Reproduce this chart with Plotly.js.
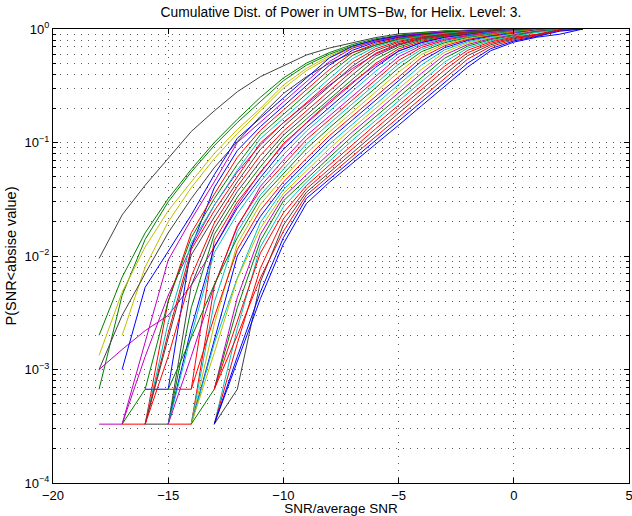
<!DOCTYPE html>
<html>
<head>
<meta charset="utf-8">
<script src="https://cdn.plot.ly/plotly-3.0.1.min.js"></script>
<style>html,body{margin:0;padding:0;background:#fff;}#chart{width:632px;height:516px;}</style>
</head>
<body>
<div id="chart"></div>
<script>
// SNR relative to average SNR (dB), sampling grid of every curve
const snrDb = [-18,-17,-16,-15,-14,-13,-12,-11,-10,-9,-8,-7,-6,-5,-4,-3,-2,-1,0,1,2,3];

// Cumulative probabilities (null = curve not started yet)
const pK1 = [0.0095,0.023,0.042,0.073,0.125,0.19,0.28,0.38,0.475,0.59,0.68,0.76,0.84,0.905,0.94,0.962,0.976,0.985,0.991,0.995,0.998,1];
const pG1 = [0.002,0.0065,0.016,0.032,0.058,0.1,0.16,0.25,0.37,0.5,0.62,0.73,0.82,0.88,0.93,0.96,0.975,0.985,0.992,0.996,0.998,1];
const pG2 = [0.00067,0.0045,0.014,0.03,0.055,0.094,0.15,0.23,0.35,0.48,0.6,0.71,0.8,0.87,0.92,0.955,0.972,0.984,0.991,0.995,0.998,1];
const pY1 = [0.00133,0.0048,0.012,0.025,0.045,0.08,0.13,0.2,0.32,0.45,0.58,0.7,0.79,0.86,0.91,0.95,0.97,0.983,0.99,0.995,0.998,1];
const pY2 = [null,0.002,0.008,0.02,0.04,0.072,0.12,0.19,0.3,0.43,0.56,0.68,0.78,0.85,0.9,0.94,0.965,0.98,0.99,0.995,0.998,1];
const pK2 = [0.001,0.003,0.007,0.016,0.032,0.06,0.102,0.17,0.27,0.38,0.5,0.62,0.72,0.81,0.87,0.92,0.955,0.975,0.987,0.994,0.997,1];
const pM1 = [0.001,0.0015,0.0022,0.003,0.0055,0.012,0.028,0.055,0.095,0.15,0.23,0.34,0.48,0.64,0.76,0.85,0.91,0.95,0.973,0.987,0.994,1];
const pM2 = [0.00033,0.00033,0.0013,0.0045,0.012,0.028,0.055,0.095,0.15,0.22,0.32,0.45,0.6,0.73,0.83,0.9,0.94,0.965,0.98,0.99,0.995,1];

const pB00 = [null,0.001,0.0053,0.011,0.023,0.052,0.109,0.164,0.248,0.374,0.557,0.704,0.802,0.868,0.912,0.944,0.964,0.977,0.985,0.99,0.994,1];
const pB01 = [null,0.00033,0.0017,0.0092,0.021,0.045,0.1,0.151,0.228,0.344,0.518,0.678,0.785,0.856,0.904,0.939,0.961,0.975,0.984,0.99,0.994,1];
const pB02 = [null,null,0.00067,0.00067,0.012,0.04,0.085,0.138,0.209,0.316,0.48,0.65,0.766,0.843,0.895,0.934,0.958,0.974,0.984,0.99,0.994,1];
const pB03 = [null,null,0.00033,0.004,0.016,0.035,0.074,0.128,0.193,0.291,0.44,0.618,0.745,0.829,0.886,0.928,0.956,0.973,0.983,0.99,0.994,1];
const pB04 = [null,0.00033,0.00067,0.004,0.0145,0.032,0.064,0.117,0.177,0.268,0.404,0.585,0.723,0.815,0.876,0.922,0.952,0.971,0.982,0.989,0.994,1];
const pB05 = [null,null,0.00033,0.0026,0.013,0.028,0.057,0.108,0.163,0.245,0.37,0.548,0.698,0.798,0.865,0.914,0.948,0.969,0.982,0.989,0.994,1];
const pB06 = [null,0.00033,0.00033,0.0021,0.0114,0.025,0.05,0.099,0.149,0.225,0.339,0.508,0.671,0.78,0.853,0.904,0.944,0.967,0.981,0.989,0.993,1];
const pB07 = [null,null,0.00033,0.0019,0.0102,0.022,0.045,0.087,0.138,0.207,0.313,0.471,0.644,0.763,0.842,0.895,0.939,0.965,0.98,0.989,0.993,1];
const pB08 = [null,null,0.00033,0.0013,0.0066,0.0195,0.041,0.077,0.126,0.19,0.285,0.43,0.612,0.742,0.828,0.886,0.932,0.962,0.979,0.988,0.993,1];
const pB09 = [null,null,0.00033,0.00033,0.0055,0.0174,0.037,0.068,0.116,0.175,0.263,0.395,0.577,0.72,0.814,0.876,0.925,0.959,0.977,0.988,0.993,1];
const pB10 = [null,null,null,0.00033,0.0035,0.0155,0.033,0.061,0.107,0.161,0.241,0.361,0.54,0.695,0.797,0.865,0.916,0.955,0.976,0.987,0.993,1];
const pB11 = [null,null,null,0.00067,0.00067,0.0137,0.03,0.054,0.098,0.148,0.221,0.332,0.498,0.667,0.779,0.853,0.904,0.95,0.974,0.987,0.993,1];
const pB12 = [null,null,null,0.00033,0.0023,0.012,0.0265,0.049,0.087,0.136,0.204,0.306,0.459,0.638,0.76,0.841,0.895,0.945,0.972,0.986,0.993,1];
const pB13 = [null,null,null,0.00033,0.002,0.0107,0.0236,0.045,0.078,0.126,0.188,0.282,0.424,0.605,0.738,0.827,0.885,0.938,0.97,0.985,0.993,1];
const pB14 = [null,null,null,0.00033,0.0013,0.0055,0.018,0.041,0.07,0.115,0.172,0.258,0.386,0.57,0.716,0.812,0.876,0.929,0.967,0.984,0.993,1];
const pB15 = [null,null,null,0.00033,0.00033,0.0054,0.0186,0.038,0.064,0.106,0.159,0.238,0.356,0.53,0.69,0.795,0.864,0.918,0.963,0.983,0.993,1];
const pB16 = [null,null,null,null,0.00033,0.0039,0.0164,0.0345,0.058,0.097,0.147,0.219,0.328,0.491,0.663,0.777,0.853,0.898,0.959,0.982,0.992,1];
const pB17 = [null,null,null,0.00067,0.0019,0.0056,0.0145,0.032,0.053,0.088,0.135,0.202,0.303,0.453,0.632,0.757,0.839,0.894,0.953,0.981,0.992,1];
const pB18 = [null,null,null,null,0.00033,0.0025,0.0128,0.0285,0.049,0.08,0.124,0.186,0.278,0.416,0.598,0.735,0.825,0.884,0.946,0.979,0.992,1];
const pB19 = [null,null,null,null,0.00067,0.0029,0.0114,0.0253,0.0448,0.0726,0.115,0.171,0.255,0.381,0.562,0.711,0.809,0.874,0.936,0.977,0.992,1];
const pB20 = [null,null,null,null,0.00033,0.0018,0.01,0.0223,0.0414,0.0665,0.106,0.158,0.235,0.352,0.522,0.685,0.792,0.862,0.923,0.974,0.991,1];
const pB21 = [null,null,null,null,0.00033,0.0017,0.0064,0.0198,0.0384,0.061,0.097,0.145,0.217,0.324,0.483,0.656,0.772,0.85,0.903,0.968,0.99,1];
const pB22 = [null,null,null,null,0.00033,0.0014,0.0063,0.0175,0.0356,0.056,0.0885,0.134,0.199,0.296,0.442,0.625,0.753,0.837,0.893,0.966,0.99,1];
const pB23 = [null,null,null,null,null,0.00067,0.0043,0.0155,0.0332,0.0519,0.081,0.124,0.184,0.274,0.408,0.591,0.73,0.822,0.883,0.959,0.99,1];
const pB24 = [null,null,null,null,0.00033,0.00067,0.0035,0.0136,0.0306,0.048,0.074,0.114,0.169,0.252,0.375,0.553,0.706,0.807,0.873,0.948,0.989,1];
const pB25 = [null,null,null,null,null,0.00033,0.0023,0.012,0.0271,0.0448,0.0687,0.105,0.156,0.232,0.344,0.512,0.679,0.789,0.861,0.932,0.988,1];
const pB26 = [null,null,null,null,null,0.00067,0.0027,0.0106,0.024,0.0417,0.0634,0.0964,0.144,0.213,0.317,0.471,0.65,0.77,0.849,0.9,0.986,1];
const pB27 = [null,null,null,null,null,0.00033,0.0017,0.0078,0.0212,0.039,0.0589,0.0888,0.132,0.197,0.292,0.435,0.618,0.749,0.835,0.891,0.984,1];
const pB28 = [null,null,null,null,null,0.00033,0.00067,0.0059,0.0187,0.0365,0.0547,0.0818,0.122,0.181,0.269,0.398,0.583,0.727,0.821,0.882,0.98,1];
const pB29 = [null,null,null,null,null,0.00067,0.002,0.0064,0.0165,0.0344,0.051,0.0759,0.112,0.167,0.247,0.366,0.544,0.701,0.804,0.871,0.974,1];
const pB30 = [null,null,null,null,null,0.00033,0.0013,0.0048,0.0145,0.0322,0.0476,0.0703,0.104,0.154,0.229,0.339,0.5,0.671,0.785,0.859,0.957,1];
const pB31 = [null,null,null,null,null,0.00033,0.0012,0.0042,0.0128,0.029,0.0447,0.0656,0.096,0.142,0.211,0.313,0.462,0.644,0.767,0.847,0.9,1];

// tick labels
const yTickVals = [1e-4,1e-3,1e-2,1e-1,1];
const yTickText = ['10<sup>−4</sup>','10<sup>−3</sup>','10<sup>−2</sup>','10<sup>−1</sup>','10<sup>0</sup>'];
const xTickVals = [-20,-15,-10,-5,0,5];

// MATLAB colour letters
const C = {b:'#0000ff', g:'#008000', r:'#ff0000', c:'#00bfbf', m:'#bf00bf', y:'#bfbf00', k:'#404040'};

const series = [
  [pK1,'k'],[pG1,'g'],[pG2,'g'],[pY1,'y'],[pY2,'y'],[pK2,'k'],[pM1,'m'],[pM2,'m'],
  [pB00,'b'],[pB01,'m'],[pB02,'b'],[pB03,'r'],[pB04,'g'],[pB05,'c'],[pB06,'r'],[pB07,'k'],
  [pB08,'r'],[pB09,'k'],[pB10,'g'],[pB11,'r'],[pB12,'b'],[pB13,'c'],[pB14,'m'],[pB15,'r'],
  [pB16,'c'],[pB17,'g'],[pB18,'y'],[pB19,'r'],[pB20,'b'],[pB21,'c'],[pB22,'y'],[pB23,'m'],
  [pB24,'g'],[pB25,'c'],[pB26,'r'],[pB27,'r'],[pB28,'k'],[pB29,'r'],[pB30,'b'],[pB31,'b']
];

const traces = series.map(([ys, col]) => ({
  x: snrDb, y: ys, type: 'scatter', mode: 'lines',
  line: {color: C[col], width: 1}, connectgaps: false,
  showlegend: false, hoverinfo: 'skip'
}));

const minorVals = [];
for (let e = -4; e < 0; e++) for (let m = 2; m <= 9; m++) minorVals.push(m * Math.pow(10, e));

const gridStyle = {gridcolor: '#5a5a5a', griddash: '1px,6px', gridwidth: 1};

const layout = {
  width: 632, height: 516,
  margin: {l: 53, r: 3, t: 29, b: 33},
  paper_bgcolor: '#fff', plot_bgcolor: '#fff',
  font: {family: 'Liberation Sans, Arial, sans-serif', size: 13, color: '#000'},
  title: {text: 'Cumulative Dist. of Power in UMTS−Bw, for Helix. Level: 3.',
          x: 0.5, xref: 'paper', y: 1 - 12/516, yref: 'container', yanchor: 'middle',
          font: {size: 13.8, color: '#000'}},
  xaxis: Object.assign({
    range: [-20, 5], tickmode: 'array', tickvals: xTickVals,
    ticks: 'inside', ticklen: 5, tickcolor: '#000', mirror: 'allticks',
    showline: true, linecolor: '#000', linewidth: 1,
    showgrid: true, zeroline: false, ticklabeloverflow: 'allow',
    tickfont: {size: 13}, ticklabelstandoff: 0,
    title: {text: 'SNR/average SNR', standoff: 3, font: {size: 13.5}}
  }, gridStyle),
  yaxis: Object.assign({
    type: 'log', range: [-4, 0], tickmode: 'array', tickvals: yTickVals, ticktext: yTickText,
    ticks: 'inside', ticklen: 5, tickcolor: '#000', mirror: 'allticks',
    showline: true, linecolor: '#000', linewidth: 1,
    showgrid: true, zeroline: false, ticklabeloverflow: 'allow',
    tickfont: {size: 13},
    minor: Object.assign({tickmode: 'array', tickvals: minorVals, ticks: 'inside', ticklen: 3,
            tickcolor: '#000', showgrid: true}, gridStyle),
    title: {text: 'P(SNR&lt;absise value)', standoff: 4, font: {size: 14.5}}
  }, gridStyle)
};

Plotly.newPlot('chart', traces, layout, {staticPlot: true, displayModeBar: false});
</script>
</body>
</html>
